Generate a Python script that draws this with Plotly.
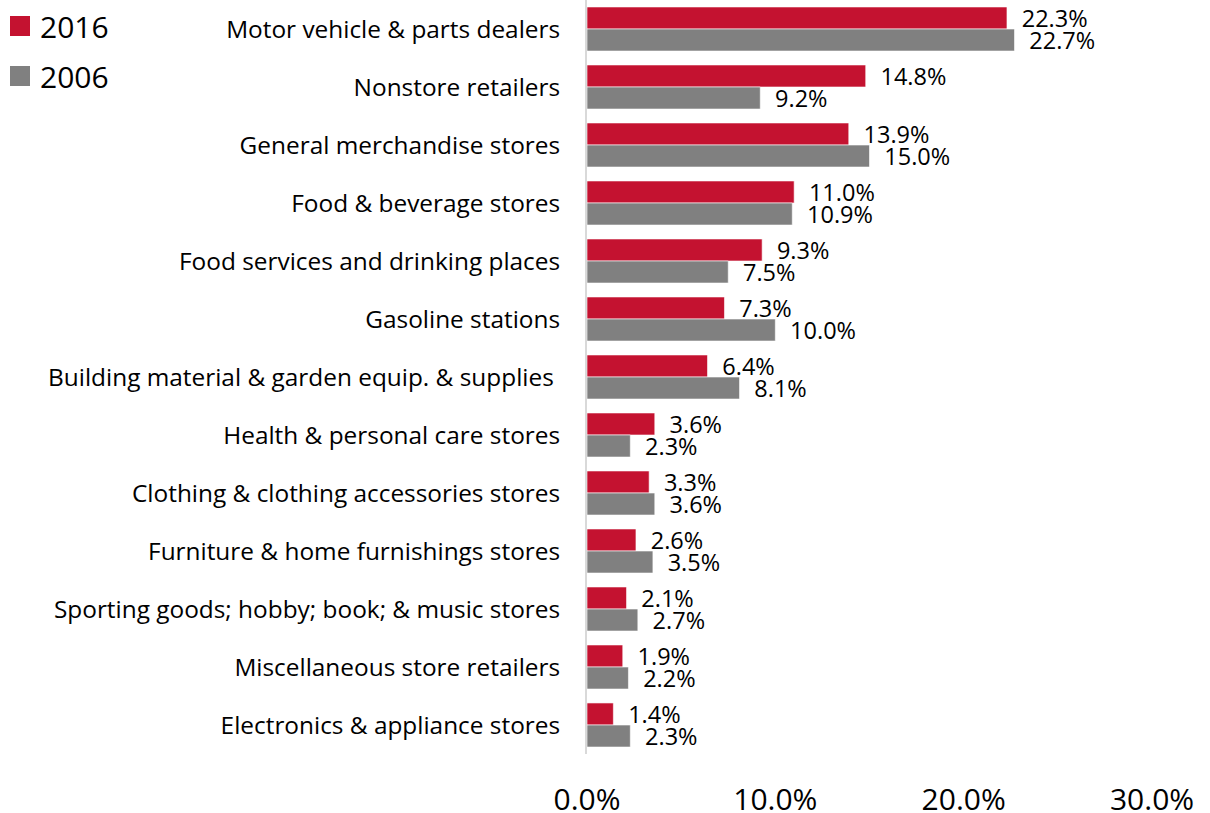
import plotly.graph_objects as go

categories = [
    "Motor vehicle & parts dealers",
    "Nonstore retailers",
    "General merchandise stores",
    "Food & beverage stores",
    "Food services and drinking places",
    "Gasoline stations",
    "Building material & garden equip. & supplies\u00a0",
    "Health & personal care stores",
    "Clothing & clothing accessories stores",
    "Furniture & home furnishings stores",
    "Sporting goods; hobby; book; & music stores",
    "Miscellaneous store retailers",
    "Electronics & appliance stores",
]
values_2016 = [22.3, 14.8, 13.9, 11.0, 9.3, 7.3, 6.4, 3.6, 3.3, 2.6, 2.1, 1.9, 1.4]
values_2006 = [22.7, 9.2, 15.0, 10.9, 7.5, 10.0, 8.1, 2.3, 3.6, 3.5, 2.7, 2.2, 2.3]
series_names = ["2016", "2006"]
x_tick_values = [0, 10, 20, 30]
x_tick_labels = ["0.0%", "10.0%", "20.0%", "30.0%"]

RED = "#C41230"
GRAY = "#808080"
FONT = "Open Sans"

fig = go.Figure()
for name, vals, col in [(series_names[0], values_2016, RED), (series_names[1], values_2006, GRAY)]:
    fig.add_trace(go.Bar(
        y=categories, x=vals, orientation="h", name=name,
        marker=dict(color=col, line=dict(color="rgba(255,255,255,0.6)", width=1)),
        text=[f"\u2002{v:.1f}%" for v in vals], textposition="outside",
        constraintext="none",
        textfont=dict(family=FONT, size=23.5, color="#000000"),
        cliponaxis=False, showlegend=False,
    ))
    fig.add_trace(go.Scatter(
        x=[None], y=[None], mode="markers", name=name, legendgroup=name,
        marker=dict(symbol="square", size=16, color=col, line=dict(color=col, width=4)),
    ))

fig.update_layout(
    width=1210, height=813,
    paper_bgcolor="white", plot_bgcolor="white",
    margin=dict(l=587, r=58, t=0, b=59, autoexpand=False),
    barmode="group", bargap=0.24, bargroupgap=0,
    font=dict(family=FONT, size=24, color="#000000"),
    legend=dict(
        xref="container", yref="container", x=0.0, y=1.0,
        xanchor="left", yanchor="top",
        font=dict(family=FONT, size=30, color="#000000"),
        itemwidth=30, tracegroupgap=8, bgcolor="rgba(0,0,0,0)",
    ),
    xaxis=dict(
        range=[0, 30], tickvals=x_tick_values, ticktext=x_tick_labels,
        showgrid=False, zeroline=False, showline=False, automargin=False,
        tickfont=dict(family=FONT, size=30, color="#000000"),
        ticks="", ticklabelstandoff=25,
    ),
    yaxis=dict(
        autorange="reversed", showgrid=False, zeroline=False, automargin=False,
        showline=True, linecolor="#D9D9D9", linewidth=2,
        ticks="", ticklabelstandoff=20,
        tickfont=dict(family=FONT, size=24.4, color="#000000"),
    ),
)

fig.write_html("out.html", config={"displayModeBar": False},
               post_script="document.body.style.margin='0px';")
